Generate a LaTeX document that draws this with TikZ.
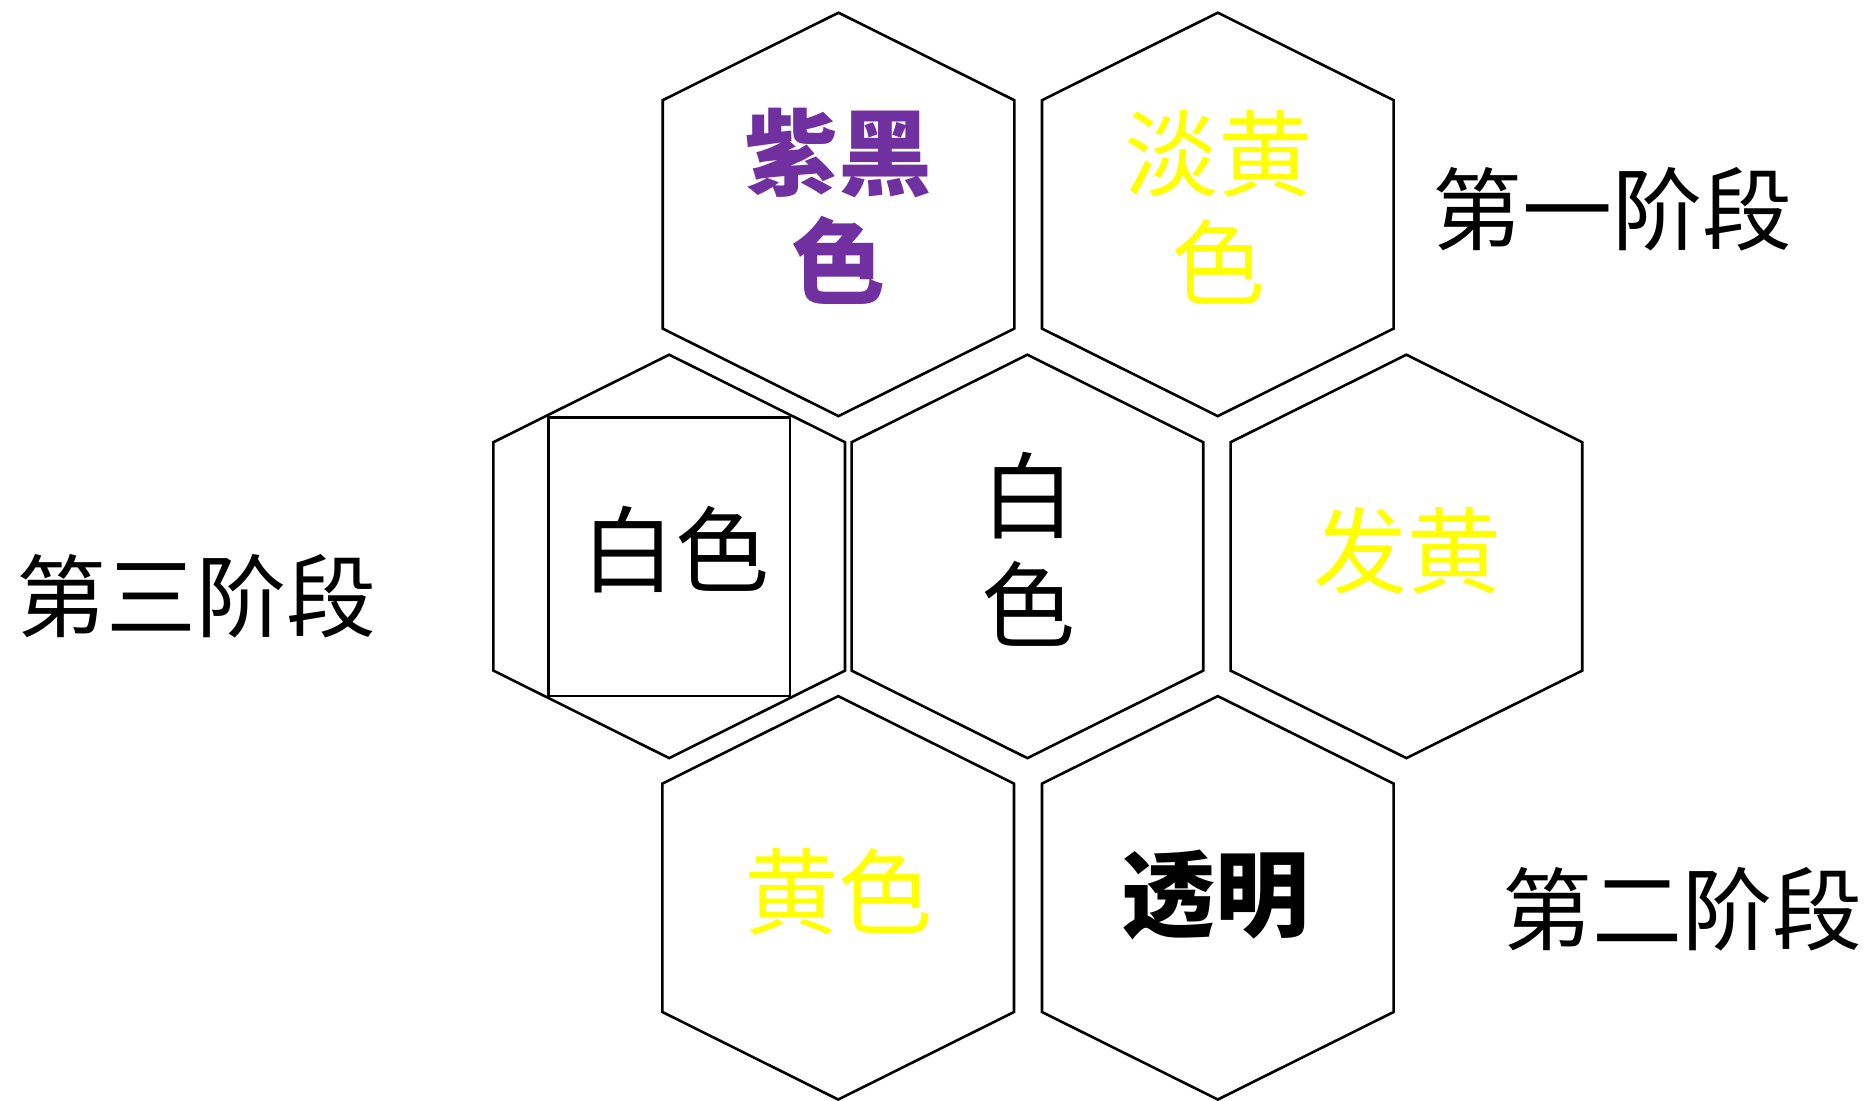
\documentclass[tikz,border=0pt]{standalone}
\usepackage{fontspec}
\newfontfamily\cjk{Noto Sans CJK SC}
\definecolor{hexpurple}{HTML}{7030A0}
\definecolor{hexyellow}{HTML}{FFFF00}
\begin{document}
\begin{tikzpicture}[x=0.5pt,y=-0.5pt,
  hexline/.style={draw=black,line width=1.3pt,line join=miter},
  celltext/.style={font=\cjk\fontsize{47}{54.5}\selectfont,align=center,inner sep=0pt},
  boldcell/.style={celltext,font=\cjk\bfseries\fontsize{47}{54.5}\selectfont},
  stagetext/.style={font=\cjk\fontsize{45}{52}\selectfont,inner sep=0pt}]
\useasboundingbox (0,0) rectangle (1868,1100);
% hexagon cells
\foreach \n/\cx/\cy in {A/838.5/214.4, B/1217.8/214.4, C/669.2/556.4, D/1027.4/556.4,
                        E/1406.4/556.4, F/838.2/897.8, G/1217.8/897.8}{
  \coordinate (\n) at (\cx,\cy);
  \draw[hexline] (\cx,\cy-201.7) -- (\cx+175.8,\cy-114.2) -- (\cx+175.8,\cy+114.2)
     -- (\cx,\cy+201.7) -- (\cx-175.8,\cy+114.2) -- (\cx-175.8,\cy-114.2) -- cycle;
}
% square inside the left middle cell
\draw[hexline] (548.3,417.7) rectangle (790,696);
% cell texts
\node[boldcell,text=hexpurple] (tA) at (838.5,206.5) {紫黑\\色};
\node[celltext,text=hexyellow] (tB) at (1218,207.5) {淡黄\\色};
\node[celltext] (tC) at (675.5,550) {白色};
\node[celltext] (tD) at (1028,549) {白\\色};
\node[celltext,text=hexyellow] (tE) at (1407,551) {发黄};
\node[celltext,text=hexyellow] (tF) at (838,892) {黄色};
\node[boldcell] (tG) at (1215,895) {透明};
% stage labels
\node[stagetext] (s1) at (1612,209) {第一阶段};
\node[stagetext] (s2) at (1682,909) {第二阶段};
\node[stagetext] (s3) at (197,596) {第三阶段};
\end{tikzpicture}
\end{document}
